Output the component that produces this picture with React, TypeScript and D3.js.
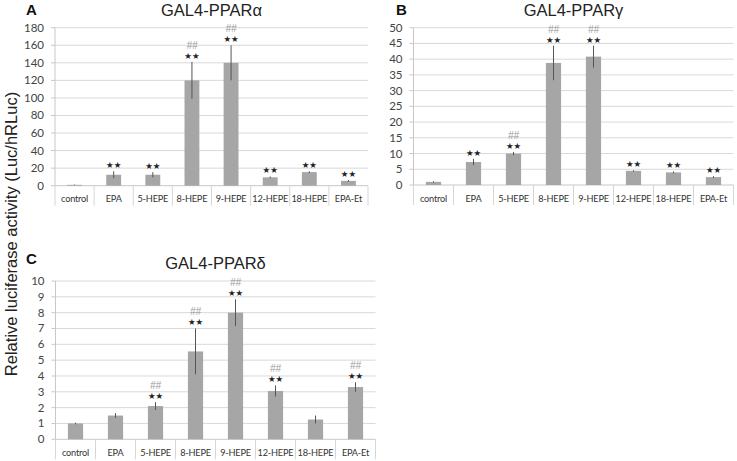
import React from "react";
import * as d3 from "d3";

const categories = ["control", "EPA", "5-HEPE", "8-HEPE", "9-HEPE", "12-HEPE", "18-HEPE", "EPA-Et"];

const alphaValues = [1, 12.5, 12.5, 120, 140, 9.5, 15.5, 5.5];
const alphaErrors = [0.3, 4, 3, 21, 20, 1, 1, 1];
const alphaStars = [false, true, true, true, true, true, true, true];
const alphaHash = [false, false, false, true, true, false, false, false];
const alphaTicks = d3.range(0, 181, 20);

const gammaValues = [1, 7.3, 10, 38.8, 40.8, 4.5, 4, 2.5];
const gammaErrors = [0.2, 1, 0.5, 5.5, 3.5, 0.2, 0.3, 0.3];
const gammaStars = [false, true, true, true, true, true, true, true];
const gammaHash = [false, false, true, true, true, false, false, false];
const gammaTicks = d3.range(0, 51, 5);

const deltaValues = [1, 1.5, 2.1, 5.55, 8, 3.05, 1.25, 3.3];
const deltaErrors = [0.05, 0.15, 0.25, 1.45, 0.85, 0.35, 0.25, 0.3];
const deltaStars = [false, false, true, true, true, true, false, true];
const deltaHash = [false, false, true, true, true, true, false, true];
const deltaTicks = d3.range(0, 11, 1);

const FONT = "Lato, 'Open Sans', sans-serif";
const ARIAL = "'Liberation Sans', Arial, sans-serif";

type PanelProps = {
  letter: string;
  title: string;
  left: number;
  right: number;
  top: number;
  bottom: number;
  max: number;
  ticks: number[];
  values: number[];
  errors: number[];
  stars: boolean[];
  hashes: boolean[];
  titleY: number;
  letterX: number;
  letterY: number;
};

function Panel(p: PanelProps) {
  const x = d3.scaleBand<string>().domain(categories).range([p.left, p.right]).paddingInner(0).paddingOuter(0);
  const y = d3.scaleLinear().domain([0, p.max]).range([p.bottom, p.top]);
  const bw = x.bandwidth() * 0.38;
  const labelBottom = p.bottom + 20;
  return (
    <g>
      <text x={p.letterX} y={p.letterY} fontFamily={ARIAL} fontWeight="bold" fontSize={15} fill="#111">{p.letter}</text>
      <text x={(p.left + p.right) / 2} y={p.titleY} textAnchor="middle" fontFamily={ARIAL} fontSize={16.5} fill="#222">{p.title}</text>
      {p.ticks.map((t) => (
        <g key={t}>
          {t > 0 && <line x1={p.left} x2={p.right} y1={y(t)} y2={y(t)} stroke="#d9d9d9" strokeWidth={1} />}
          <line x1={p.left - 4} x2={p.left} y1={y(t)} y2={y(t)} stroke="#c8c8c8" strokeWidth={1} />
          <text x={p.left - 11} y={y(t) + 4} textAnchor="end" fontFamily={FONT} fontSize={11.5} fill="#444">{t}</text>
        </g>
      ))}
      <line x1={p.left} x2={p.left} y1={p.top} y2={p.bottom} stroke="#c8c8c8" />
      <line x1={p.left} x2={p.right} y1={p.bottom} y2={p.bottom} stroke="#c8c8c8" />
      {categories.map((c) => (
        <line key={"s" + c} x1={(x(c) as number)} x2={(x(c) as number)} y1={p.bottom} y2={labelBottom} stroke="#d6d6d6" />
      ))}
      <line x1={p.right} x2={p.right} y1={p.bottom} y2={labelBottom} stroke="#d6d6d6" />
      {categories.map((c, i) => {
        const cx = (x(c) as number) + x.bandwidth() / 2;
        const v = p.values[i];
        const e = p.errors[i];
        const topErr = y(v + e);
        return (
          <g key={c}>
            <rect x={cx - bw / 2} y={y(v)} width={bw} height={p.bottom - y(v)} fill="#a6a6a6" />
            <line x1={cx} x2={cx} y1={y(v - e)} y2={y(v + e)} stroke="#555" strokeWidth={1} />
            <text x={cx} y={p.bottom + 16.5} textAnchor="middle" fontFamily={FONT} fontSize={9.2} letterSpacing={-0.2} fill="#333">{c}</text>
            {p.stars[i] && (
              <text x={cx} y={topErr - 3} textAnchor="middle" fontFamily="'DejaVu Sans', sans-serif" fontSize={8.5} fill="#222">★★</text>
            )}
            {p.hashes[i] && (
              <text x={cx} y={topErr - 13} textAnchor="middle" fontFamily={ARIAL} fontStyle="italic" fontSize={10} fill="#999">##</text>
            )}
          </g>
        );
      })}
    </g>
  );
}

export default function App() {
  return (
    <svg width={737} height={461} style={{ position: "absolute", left: 0, top: 0, background: "#fff" }}>
      <rect width={737} height={461} fill="#fff" />
      <Panel letter="A" title="GAL4-PPARα" left={55} right={368} top={27.7} bottom={185.7} max={180}
        ticks={alphaTicks} values={alphaValues} errors={alphaErrors} stars={alphaStars} hashes={alphaHash}
        titleY={16} letterX={26} letterY={15} />
      <Panel letter="B" title="GAL4-PPARγ" left={413.5} right={733.5} top={27.7} bottom={185} max={50}
        ticks={gammaTicks} values={gammaValues} errors={gammaErrors} stars={gammaStars} hashes={gammaHash}
        titleY={16} letterX={396} letterY={15} />
      <Panel letter="C" title="GAL4-PPARδ" left={55.5} right={375.5} top={281} bottom={439.3} max={10}
        ticks={deltaTicks} values={deltaValues} errors={deltaErrors} stars={deltaStars} hashes={deltaHash}
        titleY={269} letterX={26} letterY={264} />
      <text transform="translate(17,234) rotate(-90)" textAnchor="middle" fontFamily={ARIAL} fontSize={16.5} fill="#222">
        Relative luciferase activity (Luc/hRLuc)
      </text>
    </svg>
  );
}
